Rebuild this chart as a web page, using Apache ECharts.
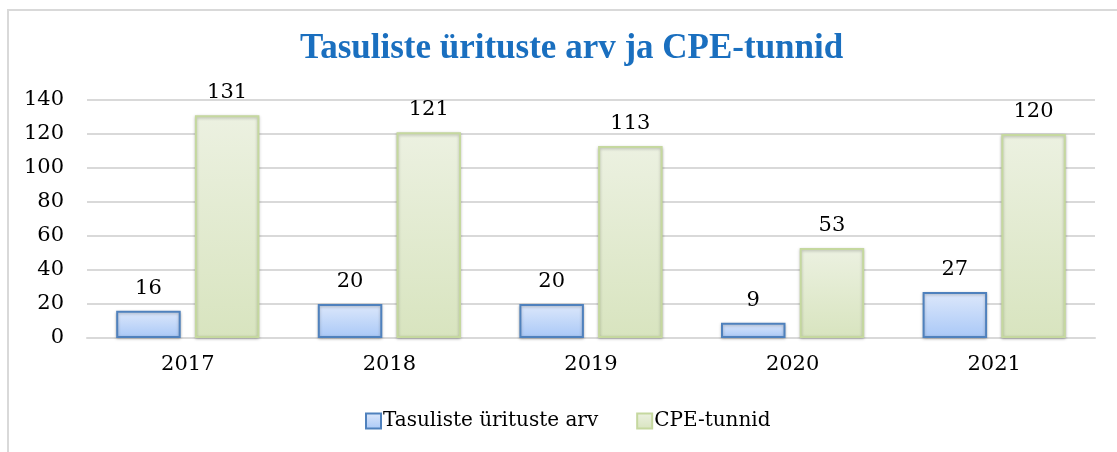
<!DOCTYPE html>
<html lang="et">
<head>
    <meta charset="UTF-8">
    <title>Tasuliste ürituste arv ja CPE-tunnid</title>
    <script src="https://cdn.jsdelivr.net/npm/echarts@6/dist/echarts.min.js"></script>
    <style>
        html, body {margin: 0; padding: 0; background: #fff; overflow: hidden;}
        #frame {position: absolute; left: 7px; top: 9px; width: 1120px; height: 460px; border-left: 2px solid #d9d9d9; border-top: 2px solid #d9d9d9;}
        #chart {position: absolute; left: 0; top: 0; width: 1117px; height: 452px;}
    </style>
</head>
<body>
<div id="frame"></div>
<div id="chart"></div>
<script>
    // andmed
    const years = ['2017', '2018', '2019', '2020', '2021'];
    const paidEvents = [16, 20, 20, 9, 27];
    const cpeHours = [131, 121, 113, 53, 120];
    const yTicks = [0, 20, 40, 60, 80, 100, 120, 140];

    const serif = 'DejaVu Serif';

    let myChart = echarts.init(document.getElementById('chart'));

    let barShadow = {shadowBlur: 3, shadowOffsetY: 1, shadowColor: 'rgba(0,0,0,0.25)'};

    let option = {
        animation: false,
        title: {
            text: 'Tasuliste ürituste arv ja CPE-tunnid',
            left: 295,
            top: 26,
            textStyle: {
                fontFamily: 'Liberation Serif, serif',
                fontWeight: 'bold',
                fontSize: 35,
                color: '#1a6fbf'
            }
        },
        legend: {
            bottom: 16,
            left: 360,
            icon: 'rect',
            itemWidth: 15,
            itemHeight: 15,
            itemGap: 38,
            textStyle: {fontFamily: serif, fontSize: 20, color: '#000', padding: [0, 0, 0, -3]},
            data: ['Tasuliste ürituste arv', 'CPE-tunnid']
        },
        grid: {left: 87, right: 22, top: 100, bottom: 114},
        xAxis: {
            type: 'category',
            data: years,
            axisTick: {show: false},
            axisLine: {lineStyle: {color: '#d9d9d9', width: 2}},
            axisLabel: {fontFamily: serif, fontSize: 21, color: '#000', margin: 16}
        },
        yAxis: {
            type: 'value',
            min: yTicks[0],
            max: yTicks[yTicks.length - 1],
            interval: 20,
            axisLine: {show: false},
            axisTick: {show: false},
            splitLine: {lineStyle: {color: '#d9d9d9', width: 2}},
            axisLabel: {fontFamily: serif, fontSize: 21, color: '#000', margin: 23}
        },
        series: [
            {
                name: 'Tasuliste ürituste arv',
                type: 'bar',
                data: paidEvents,
                barWidth: '32%',
                barGap: '22%',
                itemStyle: Object.assign({
                    color: new echarts.graphic.LinearGradient(0, 0, 0, 1, [
                        {offset: 0, color: '#dde8fb'},
                        {offset: 1, color: '#a9c8f7'}
                    ]),
                    borderColor: '#4f81bd',
                    borderWidth: 2
                }, barShadow),
                label: {show: true, position: 'top', distance: 12, fontFamily: serif, fontSize: 21, color: '#000'}
            },
            {
                name: 'CPE-tunnid',
                type: 'bar',
                data: cpeHours,
                barWidth: '32%',
                itemStyle: Object.assign({
                    color: new echarts.graphic.LinearGradient(0, 0, 0, 1, [
                        {offset: 0, color: '#ecf1e1'},
                        {offset: 1, color: '#d8e4bf'}
                    ]),
                    borderColor: '#c5d89f',
                    borderWidth: 2
                }, barShadow),
                label: {show: true, position: 'top', distance: 12, fontFamily: serif, fontSize: 21, color: '#000'}
            }
        ]
    };

    myChart.setOption(option);
</script>
</body>
</html>
